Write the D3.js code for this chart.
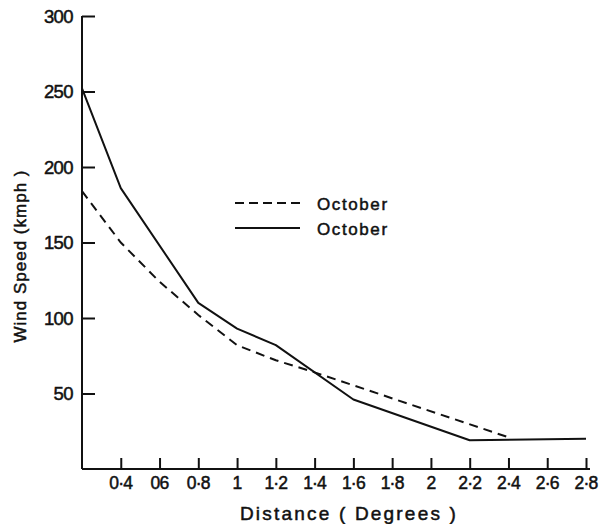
<!DOCTYPE html>
<html>
<head>
<meta charset="utf-8">
<script src="https://cdn.jsdelivr.net/npm/d3@7"></script>
<style>
  html, body { margin: 0; padding: 0; background: #fff; }
  svg { display: block; }
  text { font-family: "Liberation Sans", Arial, sans-serif; fill: #111; stroke: #111; stroke-width: 0.5px; }
</style>
</head>
<body>
<svg id="chart" width="601" height="524"></svg>
<script>
// Distance ticks (degrees) and their printed labels
const xTicks = [0.4, 0.6, 0.8, 1.0, 1.2, 1.4, 1.6, 1.8, 2.0, 2.2, 2.4, 2.6, 2.8];
const xTickLabels = ["0·4", "06", "0·8", "1", "1·2", "1·4", "1·6", "1·8", "2", "2·2", "2·4", "2·6", "2·8"];
const yTicks = [50, 100, 150, 200, 250, 300];

// Dashed series
const dashedDistance = [0.2, 0.4, 0.6, 0.8, 1.0, 1.2, 1.4, 2.4];
const dashedSpeed    = [184, 150, 124, 102, 82, 72, 64, 21];

// Solid series
const solidDistance = [0.2, 0.2, 0.4, 0.8, 1.0, 1.2, 1.6, 2.2, 2.8];
const solidSpeed    = [284, 252, 186, 110, 93, 82, 46, 19, 20];

const seriesNames = ["October", "October"];

const svg = d3.select("#chart");
const ink = "#111";

const x = d3.scaleLinear().domain([0.2, 2.8]).range([82, 586]);
const y = d3.scaleLinear().domain([0, 300]).range([469, 16]);

// Axes: ticks point inward, labels drawn separately
const xAxis = svg.append("g").attr("transform", `translate(0,${y(0)})`)
  .call(d3.axisTop(x).tickValues(xTicks).tickSize(11).tickFormat(""));
xAxis.select(".domain").attr("d", `M${x(0.2)},0H${x(2.8) + 4}`);

const yAxis = svg.append("g").attr("transform", `translate(${x(0.2)},0)`)
  .call(d3.axisRight(y).tickValues(yTicks).tickSize(13).tickFormat(""));
yAxis.select(".domain").attr("d", `M0,${y(300)}V${y(0)}`);

svg.selectAll(".domain, .tick line")
  .attr("stroke", ink).attr("stroke-width", 2);

// Tick labels
svg.append("g").selectAll("text").data(xTicks).join("text")
  .attr("x", d => x(d)).attr("y", y(0) + 20)
  .attr("text-anchor", "middle")
  .attr("font-size", 17.5).attr("letter-spacing", -0.8)
  .text((d, i) => xTickLabels[i]);

svg.append("g").selectAll("text").data(yTicks).join("text")
  .attr("x", x(0.2) - 9).attr("y", d => y(d) + 6.5)
  .attr("text-anchor", "end")
  .attr("font-size", 18.5).attr("letter-spacing", -0.6)
  .text(d => d);

// Axis titles
svg.append("text")
  .attr("x", 349).attr("y", 520)
  .attr("text-anchor", "middle")
  .attr("font-size", 19).attr("letter-spacing", 2.2)
  .text("Distance ( Degrees )");

svg.append("text")
  .attr("transform", "translate(26,256) rotate(-90)")
  .attr("text-anchor", "middle")
  .attr("font-size", 17).attr("letter-spacing", 1.0)
  .text("Wind Speed (kmph )");

// Lines
const line = d3.line().x(d => x(d[0])).y(d => y(d[1]));
const dashedData = dashedDistance.map((d, i) => [d, dashedSpeed[i]]);
const solidData = solidDistance.map((d, i) => [d, solidSpeed[i]]);

svg.append("path").datum(dashedData)
  .attr("d", line).attr("fill", "none")
  .attr("stroke", ink).attr("stroke-width", 2)
  .attr("stroke-dasharray", "9,6");

svg.append("path").datum(solidData)
  .attr("d", line).attr("fill", "none")
  .attr("stroke", ink).attr("stroke-width", 2)
  .attr("stroke-linejoin", "round");

// Legend
const legend = svg.append("g");
const styles = ["9,5", null];
[203, 228].forEach((ly, i) => {
  legend.append("line")
    .attr("x1", 235).attr("x2", 300).attr("y1", ly).attr("y2", ly)
    .attr("stroke", ink).attr("stroke-width", 2)
    .attr("stroke-dasharray", styles[i]);
  legend.append("text")
    .attr("x", 317).attr("y", ly + 7)
    .attr("font-size", 17).attr("letter-spacing", 1.6)
    .text(seriesNames[i]);
});
</script>
</body>
</html>
